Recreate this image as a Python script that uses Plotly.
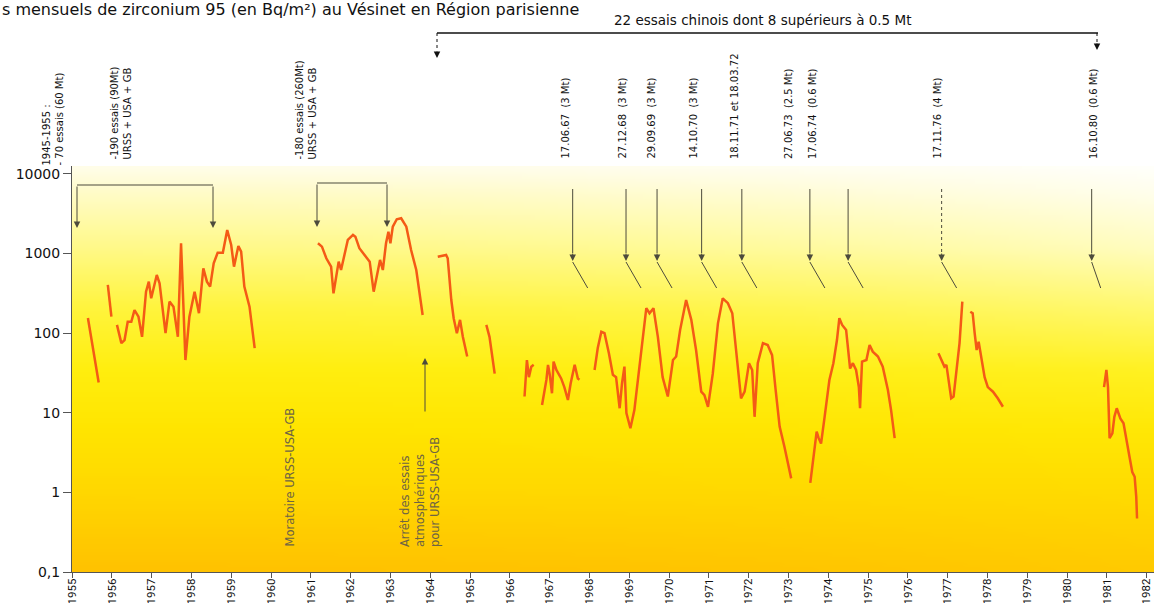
import base64
import struct
import zlib

import numpy as np
import plotly.graph_objects as go

# ---------------------------------------------------------------------------
# Dépôts mensuels de zirconium 95 (Bq/m²) — Le Vésinet, 1955-1982
# Each segment is a continuous run of monthly measurements (year, value).
# ---------------------------------------------------------------------------
t_1955a = [1955.40, 1955.67]
v_1955a = [155, 24]

t_1955b = [1955.90, 1955.99]
v_1955b = [404, 161]

t_1956 = [1956.13, 1956.24, 1956.32, 1956.40, 1956.49, 1956.57, 1956.67, 1956.76,
          1956.86, 1956.93, 1956.99, 1957.13, 1957.20, 1957.35, 1957.45, 1957.55,
          1957.66, 1957.74, 1957.85, 1957.95, 1958.08, 1958.19, 1958.30, 1958.39,
          1958.47, 1958.56, 1958.66, 1958.79, 1958.90, 1959.00, 1959.07, 1959.18,
          1959.25, 1959.33, 1959.46, 1959.59]
v_1956 = [127, 75, 82, 139, 139, 195, 161, 90,
          332, 444, 274, 538, 424, 100, 249, 215,
          90, 1347, 46, 161, 332, 178, 653, 444,
          384, 755, 1026, 1026, 1977, 1282, 684, 1245,
          1057, 384, 215, 65]

t_1961 = [1961.18, 1961.28, 1961.39, 1961.47, 1961.51, 1961.57, 1961.64, 1961.70,
          1961.76, 1961.82, 1961.93, 1962.06, 1962.12, 1962.22, 1962.35, 1962.48,
          1962.58, 1962.66, 1962.74, 1962.81, 1962.89, 1962.95, 1963.00, 1963.06,
          1963.16, 1963.27, 1963.40, 1963.52, 1963.65, 1963.81]
v_1961 = [1347, 1222, 873, 755, 684, 317, 489, 791,
          622, 832, 1483, 1715, 1631, 1166, 960, 791,
          332, 538, 832, 622, 1347, 1884, 1347, 2176,
          2697, 2775, 2176, 1109, 622, 169]

t_1964 = [1964.19, 1964.40, 1964.44, 1964.53, 1964.59, 1964.67, 1964.75, 1964.82, 1964.93]
v_1964 = [914, 960, 873, 261, 154, 100, 147, 90, 51]

t_1965 = [1965.41, 1965.49, 1965.62]
v_1965 = [127, 90, 31]

t_1966a = [1966.37, 1966.43, 1966.48, 1966.54, 1966.60]
v_1966a = [16, 46, 28, 38, 40]

t_1966b = [1966.81, 1966.92, 1966.96, 1967.00, 1967.06, 1967.10, 1967.17, 1967.29,
           1967.37, 1967.46, 1967.53, 1967.63, 1967.71, 1967.75]
v_1966b = [12.5, 26, 40, 31, 17.6, 44, 34.5, 27,
           21, 14.5, 23.5, 40, 27, 26]

t_1968 = [1968.13, 1968.21, 1968.30, 1968.38, 1968.49, 1968.59, 1968.67, 1968.76,
          1968.82, 1968.88, 1968.93, 1969.03, 1969.13, 1969.26, 1969.43, 1969.51,
          1969.61, 1969.72, 1969.84, 1969.97, 1970.10, 1970.18, 1970.28, 1970.43,
          1970.56, 1970.68, 1970.81, 1970.89, 1970.98, 1971.10, 1971.23, 1971.35,
          1971.48, 1971.59, 1971.69, 1971.81, 1971.90, 1972.01, 1972.09, 1972.15,
          1972.23, 1972.36, 1972.48, 1972.59, 1972.68, 1972.78, 1972.90, 1973.07]
v_1968 = [34.5, 65, 104, 100, 56, 30, 28, 11.4,
          23.5, 38, 9.9, 6.4, 10.8, 42, 206, 178,
          206, 90, 28, 16, 46, 51, 110, 261,
          147, 61.5, 18.4, 16.7, 11.9, 31, 133, 274,
          238, 178, 56, 15.2, 18.4, 42, 34.5, 8.9,
          42, 75, 71, 53, 19.3, 6.7, 3.75, 1.5]

t_1973 = [1973.55, 1973.66, 1973.71, 1973.76, 1973.82, 1973.91, 1974.03, 1974.13,
          1974.22, 1974.28, 1974.35, 1974.45, 1974.52, 1974.55, 1974.62, 1974.70,
          1974.77, 1974.80, 1974.85, 1974.96, 1975.04, 1975.12, 1975.25, 1975.37,
          1975.50, 1975.58, 1975.67]
v_1973 = [1.32, 3.4, 5.8, 4.8, 4.1, 8.9, 25.8, 42,
          82, 154, 127, 110, 51, 36, 42, 34.5,
          21, 11.4, 44, 46, 71, 58.6, 51, 38,
          19.3, 10.8, 4.8]

t_1976 = [1976.77, 1976.86, 1976.92, 1976.97, 1977.03, 1977.09, 1977.15, 1977.22,
          1977.30, 1977.37]
v_1976 = [56, 44, 38, 40, 25.8, 15.2, 16, 31, 75, 249]

t_1977 = [1977.57, 1977.63, 1977.68, 1977.73, 1977.78, 1977.84, 1977.93, 1978.01,
          1978.14, 1978.26, 1978.39]
v_1977 = [186, 178, 100, 61.5, 78, 53, 28, 21, 18.4, 15.2, 11.9]

t_1980 = [1980.93, 1980.99, 1981.03, 1981.07, 1981.14, 1981.19, 1981.25, 1981.34,
          1981.42, 1981.49, 1981.57, 1981.64, 1981.70, 1981.74, 1981.76]
v_1980 = [21, 34.5, 21, 4.8, 5.5, 8.9, 11.4, 8.5,
          7.4, 4.5, 2.8, 1.8, 1.57, 0.88, 0.47]

segments = [
    (t_1955a, v_1955a), (t_1955b, v_1955b), (t_1956, v_1956), (t_1961, v_1961),
    (t_1964, v_1964), (t_1965, v_1965), (t_1966a, v_1966a), (t_1966b, v_1966b),
    (t_1968, v_1968), (t_1973, v_1973), (t_1976, v_1976), (t_1977, v_1977),
    (t_1980, v_1980),
]

# Chinese atmospheric tests (arrow position on the time axis, label)
essais_chinois_t = [1967.58, 1968.92, 1969.70, 1970.82, 1971.83,
                    1973.54, 1974.50, 1976.85, 1980.62]
essais_chinois_txt = ["17.06.67  (3 Mt)", "27.12.68  (3 Mt)", "29.09.69  (3 Mt)",
                      "14.10.70  (3 Mt)", "18.11.71 et 18.03.72", "27.06.73  (2.5 Mt)",
                      "17.06.74  (0.6 Mt)", "17.11.76  (4 Mt)", "16.10.80  (0.6 Mt)"]

years = list(range(1955, 1983))
y_tickvals = [0.1, 1, 10, 100, 1000, 10000]
y_ticktext = ["0,1", "1", "10", "100", "1000", "10000"]

# ---------------------------------------------------------------------------
# Geometry
# ---------------------------------------------------------------------------
W, H = 1154, 603
PL, PR, PT, PB = 72, 1154, 166, 572
PX_PER_YEAR = 39.8
X0 = 1955.0
X1 = X0 + (PR - PL) / PX_PER_YEAR

LINE_COLOR = "#F45A16"
INK = "#4d4b3c"
TEXT_FONT = "DejaVu Sans"


def xp(px):
    return (px - PL) / (PR - PL)


def yp(py):
    return (PB - py) / (PB - PT)


def yr(px):
    return X0 + (px - PL) / PX_PER_YEAR


# ---------------------------------------------------------------------------
# Background gradient (white at the top, yellow, then orange-yellow)
# ---------------------------------------------------------------------------
def gradient_png(w, h):
    ts = np.array([0.0, 0.06, 0.2, 0.35, 0.5, 0.65, 0.8, 1.0])
    gl = np.array([253, 251, 249, 244, 238, 229, 216, 194])
    bl = np.array([232, 200, 135, 60, 15, 0, 0, 0])
    gr = np.array([255, 254, 252, 248, 241, 232, 220, 202])
    br = np.array([250, 236, 190, 110, 35, 5, 0, 0])
    rows = []
    for j in range(h):
        t = j / (h - 1)
        g_l, b_l = np.interp(t, ts, gl), np.interp(t, ts, bl)
        g_r, b_r = np.interp(t, ts, gr), np.interp(t, ts, br)
        row = bytearray()
        for i in range(w):
            s = (i / (w - 1)) ** 2.2
            g = g_l + (g_r - g_l) * s
            b = b_l + (b_r - b_l) * s
            row += bytes((255, int(round(g)), int(round(b))))
        rows.append(bytes(row))
    raw = b"".join(b"\x00" + r for r in rows)

    def chunk(tag, data):
        return (struct.pack(">I", len(data)) + tag + data
                + struct.pack(">I", zlib.crc32(tag + data) & 0xFFFFFFFF))

    png = (b"\x89PNG\r\n\x1a\n"
           + chunk(b"IHDR", struct.pack(">IIBBBBB", w, h, 8, 2, 0, 0, 0))
           + chunk(b"IDAT", zlib.compress(raw, 9))
           + chunk(b"IEND", b""))
    return "data:image/png;base64," + base64.b64encode(png).decode()


# ---------------------------------------------------------------------------
# Figure
# ---------------------------------------------------------------------------
xs, ys = [], []
for t, v in segments:
    xs += list(t) + [None]
    ys += list(v) + [None]

fig = go.Figure()
fig.add_trace(go.Scatter(
    x=xs, y=ys, mode="lines", connectgaps=False,
    line=dict(color=LINE_COLOR, width=2.5),
    hoverinfo="skip",
))

shapes = []
annotations = []


def arrow_head(x, y, dy_tail, xref="x", width=1, color=INK):
    annotations.append(dict(
        x=x, y=y, xref=xref, yref="paper", text="", showarrow=True,
        axref="pixel", ayref="pixel", ax=0, ay=dy_tail,
        arrowhead=2, arrowsize=1.3, arrowwidth=width, arrowcolor=color,
    ))


def seg(x0, y0, x1, y1, xref="x", dash="solid", width=1, color=INK):
    shapes.append(dict(
        type="line", xref=xref, yref="paper", x0=x0, y0=y0, x1=x1, y1=y1,
        line=dict(color=color, width=width, dash=dash), layer="above",
    ))


def vlabel(text, px, py_bottom, size=10, color="#111"):
    annotations.append(dict(
        x=xp(px), y=yp(py_bottom), xref="paper", yref="paper",
        text=text, showarrow=False,
        textangle=-90, xanchor="center", yanchor="bottom", align="left",
        font=dict(family=TEXT_FONT, size=size, color=color),
    ))


# Brackets of the test series 1955-1958 and 1961-1962
for (xa, xb, py_bar, py_tip) in [(77, 213, 185, 228), (317, 387, 183, 227)]:
    seg(yr(xa), yp(py_bar), yr(xb), yp(py_bar), width=1.2)
    for xx in (xa, xb):
        arrow_head(yr(xx), yp(py_tip), -(py_tip - py_bar))

# Chinese tests: vertical arrow and a short slanted pointer toward the curve
for i, t in enumerate(essais_chinois_t):
    dash = "dot" if i == 7 else "solid"
    seg(t, yp(189), t, yp(253), dash=dash)
    arrow_head(t, yp(261), -9)
    dx = 9 if i == len(essais_chinois_t) - 1 else 15
    seg(t, yp(262), t + dx / PX_PER_YEAR, yp(288))

# Upward arrow for the end of atmospheric tests
arrow_head(yr(425), yp(358), 55)

# Top bracket: 22 Chinese tests
seg(xp(437), yp(33), xp(1098), yp(33), xref="paper", width=1.6, color="#111")
seg(xp(437), yp(33), xp(437), yp(50), xref="paper", dash="dot", color="#111")
arrow_head(xp(437), yp(58), -8, xref="paper", color="#111")
seg(xp(1097), yp(33), xp(1097), yp(42), xref="paper", dash="dot", color="#111")
arrow_head(xp(1097), yp(50), -8, xref="paper", color="#111")

annotations.append(dict(
    x=xp(762), y=yp(20), xref="paper", yref="paper", showarrow=False,
    text="22 essais chinois dont 8 supérieurs à 0.5 Mt",
    xanchor="center", yanchor="middle",
    font=dict(family=TEXT_FONT, size=13.5, color="#111"),
))

# Title line
annotations.append(dict(
    x=xp(0), y=yp(9), xref="paper", yref="paper", showarrow=False,
    text="s mensuels de zirconium 95 (en Bq/m²) au Vésinet en Région parisienne",
    xanchor="left", yanchor="middle",
    font=dict(family=TEXT_FONT, size=16, color="#111"),
))

# Rotated labels above the curve
vlabel("1945-1955 :<br>- 70 essais (60 Mt)", 52, 168)
vlabel("-190 essais (90Mt)<br>URSS + USA + GB", 120, 162)
vlabel("-180 essais (260Mt)<br>URSS + USA + GB", 305, 162)
label_px = [565, 622, 651, 693, 735, 789, 813, 937, 1094]
for px, txt in zip(label_px, essais_chinois_txt):
    vlabel(txt.replace("  ", "\u00a0 "), px, 161)

# Labels inside the plot
vlabel("Moratoire URSS-USA-GB", 289, 549, size=11.5, color="#6e6444")
vlabel("Arrêt des essais<br>atmosphériques<br>pour URSS-USA-GB", 420, 549,
       size=11.5, color="#6e6444")

fig.update_layout(
    width=W, height=H,
    margin=dict(l=PL, r=W - PR, t=PT, b=H - PB, pad=0),
    paper_bgcolor="white",
    plot_bgcolor="rgba(0,0,0,0)",
    showlegend=False,
    font=dict(family=TEXT_FONT, color="#111"),
    images=[dict(
        source=gradient_png(160, 80), xref="paper", yref="paper",
        x=0, y=1, sizex=1, sizey=1, sizing="stretch",
        xanchor="left", yanchor="top", layer="below",
    )],
    shapes=shapes,
    annotations=annotations,
    xaxis=dict(
        range=[X0, X1], tickvals=years, ticktext=[str(y) for y in years],
        tickangle=-90, ticks="outside", ticklen=5, tickcolor="#555",
        ticklabelstandoff=-4,
        showline=True, linecolor="#555", linewidth=1,
        showgrid=False, zeroline=False, automargin=False,
        tickfont=dict(family="Roboto", size=11.5, color="#111"),
    ),
    yaxis=dict(
        type="log", range=[-1, 4.1], tickvals=y_tickvals, ticktext=y_ticktext,
        ticks="outside", ticklen=8, tickcolor="#555",
        showline=True, linecolor="#555", linewidth=1,
        showgrid=False, zeroline=False, automargin=False,
        tickfont=dict(family=TEXT_FONT, size=14, color="#111"),
    ),
)

fig.write_html("out.html")
